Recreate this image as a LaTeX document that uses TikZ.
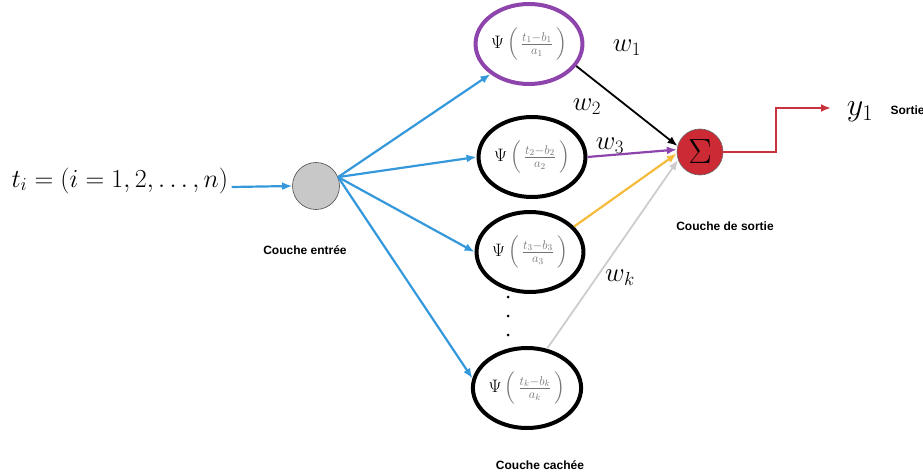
\documentclass[tikz,border=0pt]{standalone}
\usepackage{fix-cm}
\usepackage{amsmath, amssymb}
\usepackage{fontspec}
\newfontfamily\labelfont{Liberation Sans}
\usetikzlibrary{arrows.meta, shapes.geometric}
\definecolor{arrowBlue}{RGB}{52, 152, 219}
\definecolor{nodePurple}{RGB}{142, 68, 173}
\definecolor{sumRed}{RGB}{204, 42, 52}
\definecolor{lineRed}{RGB}{200, 50, 60}
\definecolor{arrowYellow}{RGB}{245, 187, 60}
\definecolor{arrowGray}{RGB}{205, 205, 205}
\definecolor{inputGray}{RGB}{200, 200, 200}
\newcommand{\psiunit}[1]{$\Psi\,{\color{black!55}\left(\,\frac{t_{#1}-b_{#1}}{a_{#1}}\,\right)}$}

\begin{document}
\begin{tikzpicture}[x=1pt, y=-1pt,
    hidden/.style={draw, line width=4pt, ellipse, minimum width=86pt, minimum height=80pt,
      inner sep=0pt, font=\fontsize{18}{20}\selectfont},
    layer/.style={font=\labelfont\bfseries\fontsize{12}{14}\selectfont},
    weight/.style={font=\fontsize{27}{29}\selectfont},
    conn/.style={-{Latex[length=10pt, width=8pt]}, line width=2.2pt}]
      \useasboundingbox (0,0) rectangle (923,476);

      % input layer
      \node[font=\fontsize{26}{28}\selectfont, anchor=base west] (ti) at (8,187) {$t_i = (i = 1, 2, \ldots, n)$};
      \node[circle, draw=black!70, fill=inputGray, line width=0.6pt, minimum size=47pt, inner sep=0pt] (input) at (316,186) {};
      \node[layer] (inLabel) at (305,250) {Couche entrée};
      \draw[arrowBlue, conn] (ti.base east) -- (input.west);

      % hidden layer (wavelets)
      \node[hidden, draw=nodePurple] (h1) at (529,44) {\psiunit{1}};
      \node[hidden] (h2) at (532,157) {\psiunit{2}};
      \node[hidden] (h3) at (530,252) {\psiunit{3}};
      \node[hidden] (h4) at (527,388) {\psiunit{k}};
      \node[layer] (hidLabel) at (540,465) {Couche cachée};
      \fill (508,297) circle (1.5pt);
      \fill (508,316) circle (1.5pt);
      \fill (508,335) circle (1.5pt);

      % fan out from the input
      \coordinate (fan) at (input.22);
      \draw[arrowBlue, conn] (fan) -- (h1.218);
      \draw[arrowBlue, conn] (fan) -- (h2.180);
      \draw[arrowBlue, conn] (fan) -- (h3.180);
      \draw[arrowBlue, conn] (fan) -- (h4.170);

      % output layer
      \node[circle, draw=black!60, fill=sumRed, line width=0.6pt, minimum size=46pt, inner sep=0pt,
        font=\fontsize{35}{37}\selectfont] (sum) at (700,152) {$\Sigma$};
      \node[layer] (outLabel) at (725,226) {Couche de sortie};

      % weighted connections
      \draw[black, conn, line width=1.8pt] (h1.-25) -- (sum.165);
      \draw[nodePurple, conn] (h2.east) -- (sum.174);
      \draw[arrowYellow, conn] (h3.30) -- (sum.184);
      \draw[arrowGray, conn, line width=1.8pt] (h4.63) -- (sum.200);
      \node[weight] (w1) at (627,48) {$w_1$};
      \node[weight] (w2) at (587,107) {$w_2$};
      \node[weight] (w3) at (610,146) {$w_3$};
      \node[weight] (wk) at (620,278) {$w_k$};

      % output
      \coordinate (outTip) at (831,108);
      \draw[lineRed, conn, line width=2pt] (sum.east) -- ++(53,0) |- (outTip);
      \node[font=\fontsize{32}{34}\selectfont] (y1) at (860,112) {$y_1$};
      \node[layer, anchor=west] (sortie) at (887,110) {Sortie};
    \end{tikzpicture}
\end{document}
